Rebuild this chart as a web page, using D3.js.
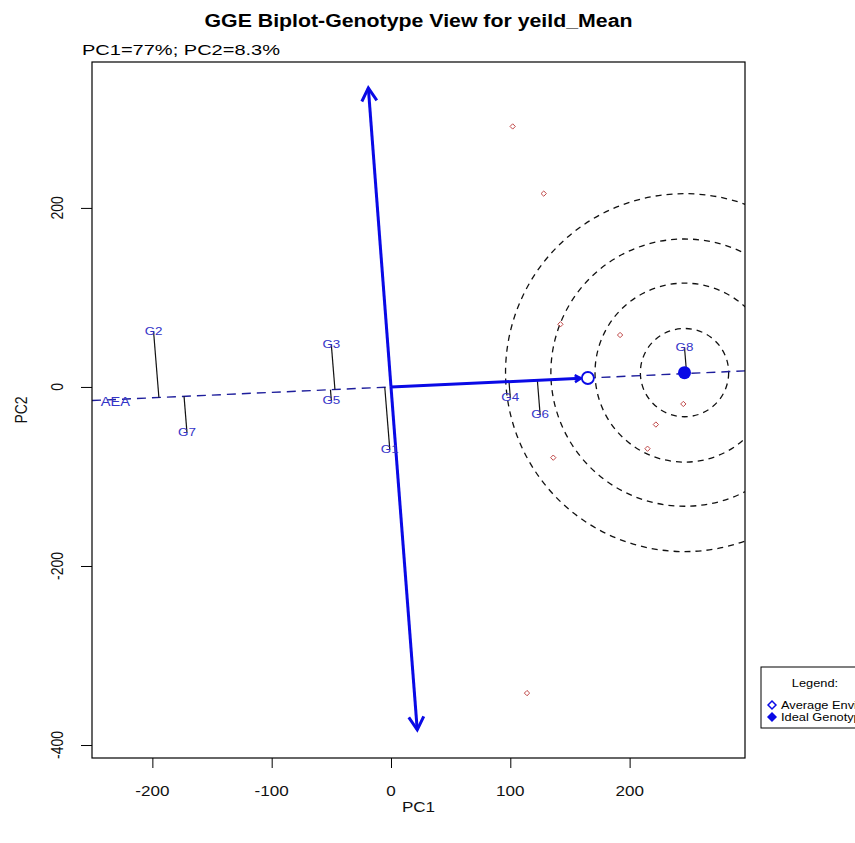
<!DOCTYPE html>
<html>
<head>
<meta charset="utf-8">
<script src="https://cdn.jsdelivr.net/npm/d3@7"></script>
<style>
  body { margin: 0; background: #fff; }
  text { font-family: "Liberation Sans", Arial, sans-serif; }
</style>
</head>
<body>
<script>
// values
const genotypes = ["G1", "G2", "G3", "G4", "G5", "G6", "G7", "G8"];
const genoPC1 = [-1, -199, -50, 100, -50, 125, -171, 246];
const genoPC2 = [-70, 62, 47, -12, -15, -31, -51, 44];
const envPC1 = [102, 128, 142, 192, 245, 222, 215, 136, 114];
const envPC2 = [291, 216, 70, 58, -19, -42, -69, -79, -342];
const avgEnv = [165, 10];
const idealGeno = [246, 16];
const aecTop = [-19, 334];
const aecBottom = [22, -383];
const circleRadii = [37, 75, 112, 150];
const aeaLabel = { text: "AEA", x: -231, y: -17 };
const xTicks = [-200, -100, 0, 100, 200];
const yTicks = [-400, -200, 0, 200];
const legendLabels = ["Average Environment", "Ideal Genotype"];

const W = 855, H = 843;
const sx = 1.22; // the source image is stretched horizontally

const svg = d3.select("body").append("svg")
  .attr("width", W).attr("height", H);

const x = d3.scaleLinear().domain([-250.6, 296.7]).range([92, 745]);
const y = d3.scaleLinear().domain([-414.5, 363]).range([758, 62]);

const stretchText = (sel, px, py, rot) =>
  sel.attr("transform", `translate(${px},${py}) scale(${sx},1)` + (rot ? ` rotate(${rot})` : ""));

// title + subtitle
svg.append("text")
  .attr("x", 418.5).attr("y", 27)
  .attr("text-anchor", "middle")
  .attr("font-size", 18).attr("font-weight", "bold")
  .attr("textLength", 428).attr("lengthAdjust", "spacingAndGlyphs")
  .text("GGE Biplot-Genotype View for yeild_Mean");

svg.append("text")
  .attr("x", 82).attr("y", 55)
  .attr("font-size", 14)
  .attr("textLength", 198).attr("lengthAdjust", "spacingAndGlyphs")
  .text("PC1=77%; PC2=8.3%");

// axes
const xAxis = svg.append("g")
  .attr("transform", `translate(0,${y.range()[0]})`)
  .call(d3.axisBottom(x).tickValues(xTicks).tickSize(10).tickFormat(d3.format("d")));
const yAxis = svg.append("g")
  .attr("transform", `translate(${x.range()[0]},0)`)
  .call(d3.axisLeft(y).tickValues(yTicks).tickSize(11).tickFormat(d3.format("d")));

[xAxis, yAxis].forEach(a => {
  a.select(".domain").remove();
  a.selectAll(".tick line").attr("stroke", "#000");
  a.selectAll(".tick text").remove();
});

xTicks.forEach(v => {
  svg.append("text")
    .attr("text-anchor", "middle").attr("font-size", 14).attr("fill", "#111")
    .call(stretchText, x(v), 796)
    .text(d3.format("d")(v).replace("−", "-"));
});
yTicks.forEach(v => {
  svg.append("text")
    .attr("text-anchor", "middle").attr("font-size", 14).attr("fill", "#111")
    .call(stretchText, 63, y(v), -90)
    .text(d3.format("d")(v).replace("−", "-"));
});

svg.append("text").attr("text-anchor", "middle").attr("font-size", 14).attr("fill", "#111")
  .call(stretchText, 418.5, 812).text("PC1");
svg.append("text").attr("text-anchor", "middle").attr("font-size", 14).attr("fill", "#111")
  .call(stretchText, 27, 410, -90).text("PC2");

// plot clip
svg.append("clipPath").attr("id", "plotclip")
  .append("rect")
  .attr("x", 92).attr("y", 62).attr("width", 745 - 92).attr("height", 758 - 62);

const plot = svg.append("g").attr("clip-path", "url(#plotclip)");

// concentric circles round the ideal genotype (radius in PC1 units)
plot.selectAll("circle.ring")
  .data(circleRadii)
  .enter()
  .append("circle")
  .attr("class", "ring")
  .attr("cx", x(idealGeno[0]))
  .attr("cy", y(idealGeno[1]))
  .attr("r", d => x(d) - x(0))
  .attr("fill", "none")
  .attr("stroke", "#111")
  .attr("stroke-width", 1.3)
  .attr("stroke-dasharray", "6,5");

// average environment axis (dashed, through origin)
const slope = avgEnv[1] / avgEnv[0];
const xd = x.domain();
plot.append("line")
  .attr("x1", x(xd[0])).attr("y1", y(xd[0] * slope))
  .attr("x2", x(xd[1])).attr("y2", y(xd[1] * slope))
  .attr("stroke", "#1e1e9c")
  .attr("stroke-width", 1.4)
  .attr("stroke-dasharray", "9,6");

// projections of genotypes onto the AEA
const len = Math.hypot(avgEnv[0], avgEnv[1]);
const ux = avgEnv[0] / len, uy = avgEnv[1] / len;
const genoData = genotypes.map((g, i) => {
  const t = genoPC1[i] * ux + genoPC2[i] * uy;
  return { name: g, px: genoPC1[i], py: genoPC2[i], fx: t * ux, fy: t * uy };
});

plot.selectAll("line.proj")
  .data(genoData)
  .enter()
  .append("line")
  .attr("class", "proj")
  .attr("x1", d => x(d.px)).attr("y1", d => y(d.py))
  .attr("x2", d => x(d.fx)).attr("y2", d => y(d.fy))
  .attr("stroke", "#111")
  .attr("stroke-width", 1.2);

// environment points
plot.selectAll("path.env")
  .data(envPC1.map((v, i) => [v, envPC2[i]]))
  .enter()
  .append("path")
  .attr("class", "env")
  .attr("d", d3.symbol(d3.symbolDiamond2, 18))
  .attr("transform", d => `translate(${x(d[0])},${y(d[1])})`)
  .attr("fill", "none")
  .attr("stroke", "#c04848")
  .attr("stroke-width", 1);

// arrow helper (open V head)
const arrowHead = (g, x0, y0, x1, y1, L, color, w) => {
  const a = Math.atan2(y1 - y0, x1 - x0);
  const s = Math.PI / 6;
  g.append("path")
    .attr("d", `M${x1 - L * Math.cos(a - s)},${y1 - L * Math.sin(a - s)}L${x1},${y1}L${x1 - L * Math.cos(a + s)},${y1 - L * Math.sin(a + s)}`)
    .attr("fill", "none")
    .attr("stroke", color)
    .attr("stroke-width", w)
    .attr("stroke-linejoin", "miter");
};

// AEC ordinate (thick arrow both ways)
const blue = "#0a0ae6";
const ox = x(0), oy = y(0);
[aecTop, aecBottom].forEach(p => {
  plot.append("line")
    .attr("x1", ox).attr("y1", oy)
    .attr("x2", x(p[0])).attr("y2", y(p[1]))
    .attr("stroke", blue).attr("stroke-width", 3);
  arrowHead(plot, ox, oy, x(p[0]), y(p[1]), 15, blue, 3);
});

// AEA arrow to average environment
const ax = x(avgEnv[0]), ay = y(avgEnv[1]);
const ang = Math.atan2(ay - oy, ax - ox);
const ex = ax - 7 * Math.cos(ang), ey = ay - 7 * Math.sin(ang);
plot.append("line")
  .attr("x1", ox).attr("y1", oy).attr("x2", ex).attr("y2", ey)
  .attr("stroke", blue).attr("stroke-width", 3);
arrowHead(plot, ox, oy, ex, ey, 7, blue, 2.5);

plot.append("circle")
  .attr("cx", ax).attr("cy", ay).attr("r", 6)
  .attr("fill", "#fff").attr("stroke", blue).attr("stroke-width", 1.8);

plot.append("circle")
  .attr("cx", x(idealGeno[0])).attr("cy", y(idealGeno[1])).attr("r", 6.5)
  .attr("fill", blue);

// genotype labels
genoData.forEach(d => {
  plot.append("text")
    .attr("text-anchor", "middle")
    .attr("dominant-baseline", "central")
    .attr("font-size", 11)
    .attr("fill", "#3434c8")
    .call(stretchText, x(d.px), y(d.py))
    .text(d.name);
});

plot.append("text")
  .attr("text-anchor", "middle")
  .attr("dominant-baseline", "central")
  .attr("font-size", 12)
  .attr("fill", "#3434c8")
  .call(stretchText, x(aeaLabel.x), y(aeaLabel.y))
  .text(aeaLabel.text);

// plot box
svg.append("rect")
  .attr("x", 92).attr("y", 62).attr("width", 745 - 92).attr("height", 758 - 62)
  .attr("fill", "none").attr("stroke", "#000").attr("stroke-width", 1.2);

// legend (runs off the right edge, as in the source)
const lg = svg.append("g");
lg.append("rect")
  .attr("x", 761).attr("y", 667).attr("width", 120).attr("height", 61)
  .attr("fill", "#fff").attr("stroke", "#000").attr("stroke-width", 1);
lg.append("text")
  .attr("font-size", 10.5).attr("text-anchor", "middle")
  .call(stretchText, 815, 687)
  .text("Legend:");
legendLabels.forEach((t, i) => {
  const ly = 705 + i * 12;
  lg.append("path")
    .attr("d", d3.symbol(d3.symbolDiamond2, 40))
    .attr("transform", `translate(772,${ly})`)
    .attr("fill", i === 0 ? "#fff" : blue)
    .attr("stroke", blue)
    .attr("stroke-width", 1.5);
  lg.append("text")
    .attr("font-size", 10.5)
    .attr("dominant-baseline", "central")
    .call(stretchText, 781, ly)
    .text(t);
});
</script>
</body>
</html>
